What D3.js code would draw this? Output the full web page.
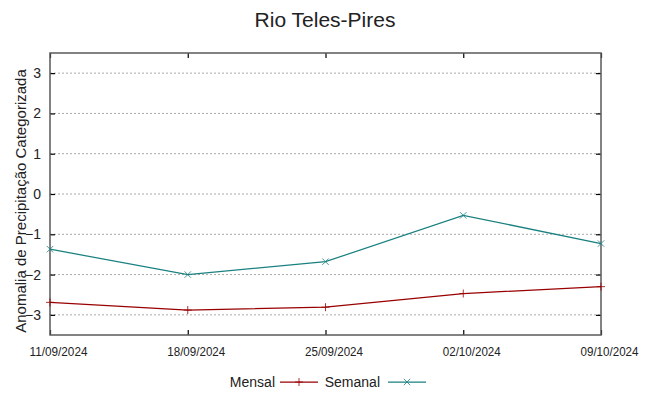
<!DOCTYPE html>
<html>
<head>
<meta charset="utf-8">
<script src="https://cdn.jsdelivr.net/npm/d3@7"></script>
<style>
  body { margin: 0; background: #fff; }
  svg { display: block; font-family: "Liberation Sans", Arial, sans-serif; }
</style>
</head>
<body>
<script>
const dates = ['11/09/2024', '18/09/2024', '25/09/2024', '02/10/2024', '09/10/2024'];
const mensal = [-2.69, -2.88, -2.81, -2.47, -2.30];
const semanal = [-1.37, -2.0, -1.68, -0.53, -1.23];
const yTicks = [-3, -2, -1, 0, 1, 2, 3];

const W = 649, H = 396;
const m = { left: 50, right: 601, top: 53, bottom: 335 };

const parse = d3.timeParse('%d/%m/%Y');

const svg = d3.select('body').append('svg')
    .attr('width', W)
    .attr('height', H);

// SCALES
const x = d3.scaleTime()
    .domain([parse(dates[0]), parse(dates[dates.length - 1])])
    .range([m.left, m.right]);

const y = d3.scaleLinear()
    .domain([-3.5, 3.5])
    .range([m.bottom, m.top]);

// GRID
svg.append('g')
    .selectAll('line')
    .data(yTicks)
    .enter()
    .append('line')
    .attr('x1', m.left)
    .attr('x2', m.right)
    .attr('y1', d => y(d))
    .attr('y2', d => y(d))
    .attr('stroke', '#a8a8a8')
    .attr('stroke-width', 1)
    .attr('stroke-dasharray', '2,2');

// AXES (ticks inside)
const yLeft = d3.axisLeft(y).tickValues(yTicks).tickSize(-5).tickPadding(9).tickFormat(d3.format('d'));
svg.append('g')
    .attr('transform', 'translate(' + m.left + ',0)')
    .call(yLeft)
    .call(g => g.select('.domain').remove())
    .call(g => g.selectAll('text').attr('font-size', '14px').attr('fill', '#222').attr('font-family', 'Liberation Sans'));

const yRight = d3.axisRight(y).tickValues(yTicks).tickSize(-5).tickFormat('');
svg.append('g')
    .attr('transform', 'translate(' + m.right + ',0)')
    .call(yRight)
    .call(g => g.select('.domain').remove());

const xBottom = d3.axisBottom(x).tickValues(dates.map(parse)).tickSize(-5).tickFormat(d3.timeFormat('%d/%m/%Y'));
svg.append('g')
    .attr('transform', 'translate(0,' + m.bottom + ')')
    .call(xBottom)
    .call(g => g.select('.domain').remove())
    .call(g => g.selectAll('text')
        .attr('font-size', '12px')
        .attr('font-family', 'Liberation Sans')
        .attr('fill', '#222')
        .attr('x', 8)
        .attr('y', 21)
        .attr('dy', 0)
        .attr('textLength', 58)
        .attr('lengthAdjust', 'spacingAndGlyphs'));

const xTop = d3.axisTop(x).tickValues(dates.map(parse)).tickSize(-5).tickFormat('');
svg.append('g')
    .attr('transform', 'translate(0,' + m.top + ')')
    .call(xTop)
    .call(g => g.select('.domain').remove());

svg.selectAll('.tick line').attr('stroke', '#000').attr('stroke-width', 1.2);

// BORDER
svg.append('rect')
    .attr('x', m.left)
    .attr('y', m.top)
    .attr('width', m.right - m.left)
    .attr('height', m.bottom - m.top)
    .attr('fill', 'none')
    .attr('stroke', '#5a5a5a')
    .attr('stroke-width', 1.5);

// LINES
const series = [
    { name: 'Mensal', values: mensal, color: '#990000', mark: 'plus' },
    { name: 'Semanal', values: semanal, color: '#1a8080', mark: 'cross' }
];

const line = d3.line()
    .x((d, i) => x(parse(dates[i])))
    .y(d => y(d));

function marker(g, cx, cy, type, color) {
    const s = type === 'plus' ? 4 : 3.2;
    const p = type === 'plus'
        ? 'M' + (cx - s) + ',' + cy + 'H' + (cx + s) + 'M' + cx + ',' + (cy - s) + 'V' + (cy + s)
        : 'M' + (cx - s) + ',' + (cy - s) + 'L' + (cx + s) + ',' + (cy + s) + 'M' + (cx - s) + ',' + (cy + s) + 'L' + (cx + s) + ',' + (cy - s);
    g.append('path').attr('d', p).attr('stroke', color).attr('stroke-width', 1).attr('stroke-opacity', 0.8).attr('fill', 'none');
}

series.forEach(s => {
    svg.append('path')
        .datum(s.values)
        .attr('d', line)
        .attr('fill', 'none')
        .attr('stroke', s.color)
        .attr('stroke-width', 1.25);
    const g = svg.append('g');
    s.values.forEach((v, i) => marker(g, x(parse(dates[i])), y(v), s.mark, s.color));
});

// TITLE
svg.append('text')
    .attr('x', 325)
    .attr('y', 27)
    .attr('text-anchor', 'middle')
    .attr('font-size', '21px')
    .attr('fill', '#222')
    .text('Rio Teles-Pires');

// Y LABEL
svg.append('text')
    .attr('transform', 'translate(26,' + ((m.top + m.bottom) / 2 + 7) + ') rotate(-90)')
    .attr('text-anchor', 'middle')
    .attr('font-size', '15px')
    .attr('fill', '#222')
    .text('Anomalia de Precipitação Categorizada');

// LEGEND
const legend = svg.append('g').attr('transform', 'translate(0,382)');
const legendItems = [
    { label: 'Mensal', tx: 275, lx: 280, s: series[0] },
    { label: 'Semanal', tx: 380, lx: 388, s: series[1] }
];
legendItems.forEach(it => {
    legend.append('text')
        .attr('x', it.tx)
        .attr('y', 5)
        .attr('text-anchor', 'end')
        .attr('font-size', '14px')
        .attr('fill', '#222')
        .text(it.label);
    legend.append('line')
        .attr('x1', it.lx)
        .attr('x2', it.lx + 38)
        .attr('y1', 0)
        .attr('y2', 0)
        .attr('stroke', it.s.color)
        .attr('stroke-width', 1.25);
    marker(legend, it.lx + 19, 0, it.s.mark, it.s.color);
});
</script>
</body>
</html>
